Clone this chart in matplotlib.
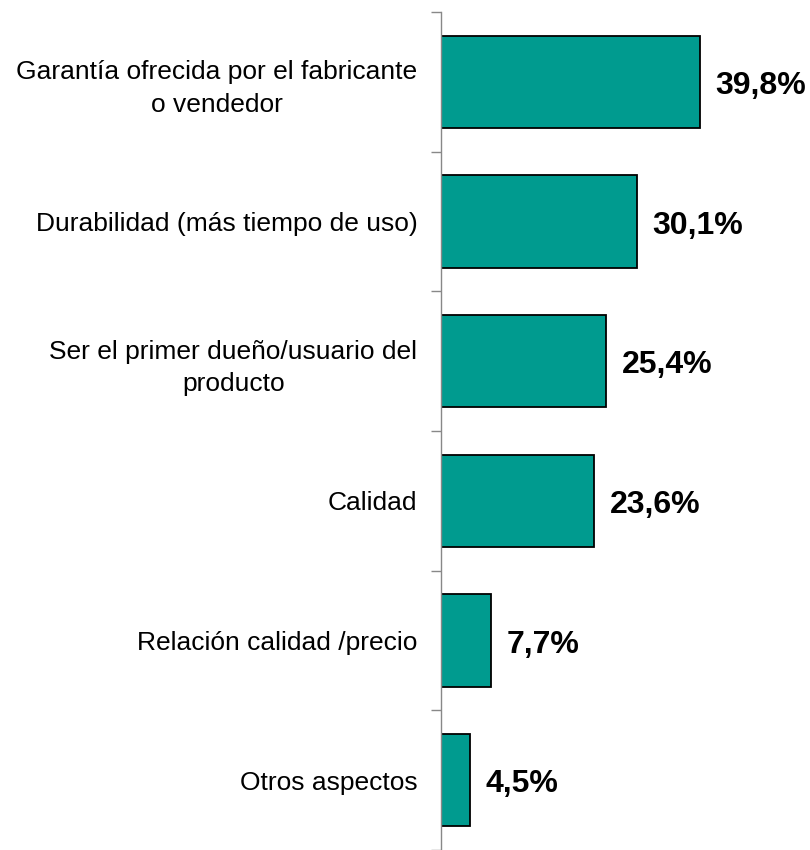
import numpy as np
import matplotlib.pyplot as plt
from matplotlib.ticker import FixedLocator

plt.rcParams['font.family'] = ['Liberation Sans', 'DejaVu Sans']

categorias = [
    "Garantía ofrecida por el fabricante\no vendedor",
    "Durabilidad (más tiempo de uso)",
    "Ser el primer dueño/usuario del\nproducto",
    "Calidad",
    "Relación calidad /precio",
    "Otros aspectos",
]
valores = [39.8, 30.1, 25.4, 23.6, 7.7, 4.5]
etiquetas = ["39,8%", "30,1%", "25,4%", "23,6%", "7,7%", "4,5%"]

color_barra = "#009B8F"

fig = plt.figure(figsize=(8.1, 8.5), dpi=100)
ax = fig.add_axes([441 / 810, 0.0, 364 / 810, 838 / 850])

y = np.arange(len(categorias))
ax.barh(y, valores, height=0.66, color=color_barra, edgecolor="black", linewidth=1.3)

for yi, v, t in zip(y, valores, etiquetas):
    ax.text(v + 2.4, yi + 0.03, t, va="center", ha="left", fontsize=23, fontweight="bold")

ax.set_xlim(0, 56)
ax.set_ylim(len(categorias) - 0.5, -0.5)

ax.set_yticks(y)
ax.set_yticklabels(categorias, fontsize=19, multialignment="center", linespacing=1.45)
ax.tick_params(axis="y", which="major", length=0, pad=17)
ax.yaxis.set_minor_locator(FixedLocator(np.arange(-0.5, len(categorias), 1.0)))
ax.tick_params(axis="y", which="minor", length=7, color="#888888", width=1)
ax.set_xticks([])

for s in ["top", "right", "bottom"]:
    ax.spines[s].set_visible(False)
ax.spines["left"].set_color("#888888")
ax.spines["left"].set_linewidth(1)

fig.savefig("out.png", dpi=100)
